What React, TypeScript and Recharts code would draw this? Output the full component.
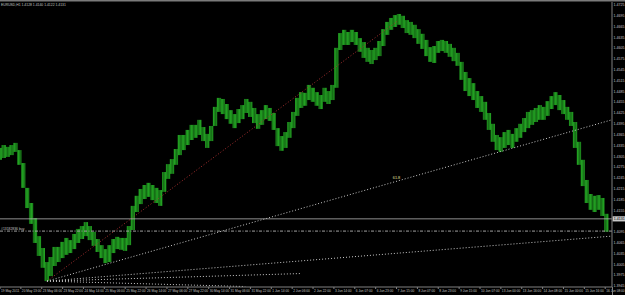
import React from "react";
import { ComposedChart, Bar, XAxis, YAxis, ReferenceLine, ReferenceDot } from "recharts";

const highs = [
  1.4328, 1.4336, 1.4331, 1.4336, 1.4342, 1.4322, 1.4286, 1.4217, 1.4175, 1.4133,
  1.4083, 1.4050, 1.4011, 1.4025, 1.4053, 1.4053, 1.4067, 1.4078, 1.4072, 1.4089,
  1.4103, 1.4111, 1.4122, 1.4111, 1.4095, 1.4075, 1.4058, 1.4047, 1.4058, 1.4075,
  1.4081, 1.4078, 1.4078, 1.4111, 1.4167, 1.4195, 1.4214, 1.4225, 1.4231, 1.4225,
  1.4217, 1.4211, 1.4261, 1.4283, 1.4297, 1.4325, 1.4364, 1.4364, 1.4378, 1.4392,
  1.4392, 1.4406, 1.4386, 1.4367, 1.4389, 1.4442, 1.4467, 1.4464, 1.4450, 1.4433,
  1.4422, 1.4436, 1.4447, 1.4464, 1.4456, 1.4439, 1.4422, 1.4433, 1.4447, 1.4439,
  1.4425, 1.4383, 1.4361, 1.4372, 1.4400, 1.4428, 1.4467, 1.4483, 1.4481, 1.4503,
  1.4495, 1.4483, 1.4475, 1.4495, 1.4486, 1.4503, 1.4606, 1.4647, 1.4656, 1.4650,
  1.4656, 1.4650, 1.4633, 1.4622, 1.4606, 1.4600, 1.4606, 1.4625, 1.4658, 1.4678,
  1.4689, 1.4697, 1.4700, 1.4695, 1.4683, 1.4678, 1.4670, 1.4658, 1.4645, 1.4628,
  1.4608, 1.4611, 1.4625, 1.4628, 1.4625, 1.4617, 1.4606, 1.4592, 1.4567, 1.4539,
  1.4522, 1.4508, 1.4486, 1.4472, 1.4456, 1.4425, 1.4395, 1.4364, 1.4358, 1.4372,
  1.4378, 1.4367, 1.4383, 1.4395, 1.4411, 1.4428, 1.4433, 1.4439, 1.4447, 1.4442,
  1.4458, 1.4472, 1.4483, 1.4475, 1.4461, 1.4442, 1.4428, 1.4400, 1.4345, 1.4295,
  1.4239, 1.4200, 1.4195, 1.4197, 1.4189, 1.4145,
];
const lows = [
  1.4295, 1.4300, 1.4303, 1.4308, 1.4317, 1.4281, 1.4217, 1.4161, 1.4117, 1.4064,
  1.4028, 1.3995, 1.3958, 1.3972, 1.4000, 1.4011, 1.4022, 1.4031, 1.4036, 1.4047,
  1.4064, 1.4075, 1.4083, 1.4072, 1.4056, 1.4039, 1.4022, 1.4008, 1.4011, 1.4036,
  1.4047, 1.4045, 1.4042, 1.4058, 1.4100, 1.4150, 1.4172, 1.4186, 1.4192, 1.4183,
  1.4175, 1.4167, 1.4206, 1.4242, 1.4256, 1.4281, 1.4308, 1.4322, 1.4336, 1.4350,
  1.4356, 1.4364, 1.4347, 1.4328, 1.4347, 1.4389, 1.4428, 1.4422, 1.4408, 1.4395,
  1.4383, 1.4397, 1.4408, 1.4425, 1.4414, 1.4397, 1.4381, 1.4392, 1.4408, 1.4403,
  1.4378, 1.4333, 1.4320, 1.4328, 1.4356, 1.4383, 1.4417, 1.4439, 1.4445, 1.4461,
  1.4456, 1.4445, 1.4436, 1.4456, 1.4450, 1.4461, 1.4495, 1.4600, 1.4614, 1.4614,
  1.4622, 1.4614, 1.4595, 1.4578, 1.4567, 1.4561, 1.4572, 1.4583, 1.4611, 1.4642,
  1.4656, 1.4664, 1.4670, 1.4661, 1.4647, 1.4642, 1.4633, 1.4617, 1.4603, 1.4583,
  1.4567, 1.4564, 1.4592, 1.4597, 1.4592, 1.4581, 1.4569, 1.4556, 1.4517, 1.4486,
  1.4472, 1.4461, 1.4439, 1.4428, 1.4406, 1.4378, 1.4345, 1.4322, 1.4317, 1.4328,
  1.4336, 1.4328, 1.4345, 1.4356, 1.4372, 1.4383, 1.4392, 1.4400, 1.4406, 1.4406,
  1.4417, 1.4436, 1.4447, 1.4433, 1.4422, 1.4406, 1.4389, 1.4328, 1.4281, 1.4222,
  1.4175, 1.4156, 1.4150, 1.4156, 1.4139, 1.4095,
];

const xLabels = [
  "19 May 2011", "20 May 13:00", "23 May 06:00", "23 May 22:00", "24 May 14:00",
  "25 May 06:00", "25 May 22:00", "26 May 14:00", "27 May 06:00", "27 May 22:00",
  "30 May 14:00", "31 May 06:00", "31 May 22:00", "1 Jun 14:00", "2 Jun 06:00",
  "2 Jun 22:00", "3 Jun 14:00", "6 Jun 07:00", "6 Jun 23:00", "7 Jun 15:00",
  "8 Jun 07:00", "8 Jun 23:00", "9 Jun 15:00", "10 Jun 07:00", "13 Jun 00:00",
  "13 Jun 16:00", "14 Jun 08:00", "15 Jun 00:00", "15 Jun 16:00", "16 Jun 08:00",
];
const BARS_PER_LABEL = 16;
const HOURS_PER_POINT = 3;

const yTicks = [
  1.4725, 1.4695, 1.4665, 1.4635, 1.4605, 1.4575, 1.4545, 1.4515, 1.4485, 1.4455,
  1.4425, 1.4395, 1.4365, 1.4335, 1.4305, 1.4275, 1.4245, 1.4215, 1.4185, 1.4155,
  1.4095, 1.4065, 1.4035, 1.4005, 1.3975, 1.3945,
];
const yDomain = [1.39417, 1.47333];
const xDomain = [0, 469.2];

const title = "EURUSD,H1  1.4128 1.4140 1.4122 1.4131";
const bid = 1.4131;
const orderPrice = 1.4097;
const orderLabel = "#13182836 buy";

// fan / gann lines: [barFrom, priceFrom, barTo, priceTo]
const redLine = [36, 1.3958, 305, 1.4681];
const fanLines = [
  [36, 1.3958, 469, 1.4406],
  [36, 1.3958, 469, 1.4083],
  [36, 1.3958, 230, 1.3979],
  [36, 1.3958, 188, 1.3943],
];
const fanLabel = { bar: 304, price: 1.4245, text: "61.8" };

const data = highs.map((h, k) => ({ i: k * HOURS_PER_POINT, r: [lows[k], h] }));
const xTicks = xLabels.map((_, n) => n * BARS_PER_LABEL);

const FONT = "'Liberation Sans', Arial, sans-serif";
const TXT = "#c4c4c4";

const XTick = (props: any) => {
  const { x, y, payload } = props;
  const label = xLabels[Math.round(payload.value / BARS_PER_LABEL)];
  return (
    <text x={x + 1} y={y} dy={3.4} fontSize={3.2} fill={TXT} fontFamily={FONT} textAnchor="start">
      {label}
    </text>
  );
};

const YTick = (props: any) => {
  const { x, y, payload } = props;
  return (
    <text x={x + 1.5} y={y} dy={1.3} fontSize={3.6} fill={TXT} fontFamily={FONT} textAnchor="start">
      {Number(payload.value).toFixed(4)}
    </text>
  );
};

const BidLabel = (props: any) => {
  const vb = props.viewBox || {};
  const x = (vb.x || 0) + (vb.width || 0);
  const y = vb.y || 0;
  return (
    <g>
      <rect x={x + 0.5} y={y - 2.6} width={12.5} height={5.2} fill="#c8c8c8" />
      <text x={x + 1.8} y={y} dy={1.3} fontSize={3.6} fill="#000" fontFamily={FONT}>
        {bid.toFixed(4)}
      </text>
    </g>
  );
};

const OrderLabel = (props: any) => {
  const vb = props.viewBox || {};
  return (
    <text x={(vb.x || 0) + 1} y={(vb.y || 0) - 1.2} fontSize={3.4} fill={TXT} fontFamily={FONT}>
      {orderLabel}
    </text>
  );
};

// each 3-hour range drawn as a block of hourly-looking green strokes
const RangeShape = (props: any) => {
  const { x, y, width, height } = props;
  if (!isFinite(x) || !isFinite(y)) return null;
  const w = Math.max(width, 0);
  return (
    <rect x={x - 0.4} y={y} width={w + 0.8} height={Math.max(height, 1)} fill="url(#mtBars)" />
  );
};

export default function App() {
  return (
    <div style={{ position: "fixed", left: 0, top: 0, width: 625, height: 295, background: "#000" }}>
      <svg width={0} height={0} style={{ position: "absolute" }}>
        <defs>
          <pattern id="mtBars" patternUnits="userSpaceOnUse" width={1.3} height={6}>
            <rect x={0} y={0} width={1.3} height={6} fill="#0b4a0b" />
            <rect x={0} y={0} width={0.9} height={6} fill="#23a323" />
          </pattern>
        </defs>
      </svg>
      <ComposedChart
        width={625}
        height={295}
        data={data}
        margin={{ top: 2, right: 0, bottom: 0, left: 0 }}
        style={{ background: "#000" }}
      >
        <XAxis
          dataKey="i"
          type="number"
          domain={xDomain}
          allowDataOverflow
          ticks={xTicks}
          interval={0}
          height={8}
          tickSize={2}
          tickMargin={0}
          axisLine={{ stroke: "#808080" }}
          tickLine={{ stroke: "#808080" }}
          tick={<XTick />}
        />
        <YAxis
          orientation="right"
          type="number"
          domain={yDomain}
          allowDataOverflow
          ticks={yTicks}
          interval={0}
          width={13}
          tickSize={0}
          tickMargin={0}
          axisLine={{ stroke: "#808080" }}
          tickLine={false}
          tick={<YTick />}
        />
        <ReferenceLine
          segment={[{ x: redLine[0], y: redLine[1] }, { x: redLine[2], y: redLine[3] }]}
          stroke="#a83030"
          strokeDasharray="1 2"
          ifOverflow="visible"
        />
        {fanLines.map((l, n) => (
          <ReferenceLine
            key={n}
            segment={[{ x: l[0], y: l[1] }, { x: l[2], y: l[3] }]}
            stroke="#c8c8c8"
            strokeDasharray="1 2"
            ifOverflow="visible"
          />
        ))}
        <Bar dataKey="r" fill="#1e961e" barSize={4} shape={<RangeShape />} isAnimationActive={false} />
        <ReferenceLine y={bid} stroke="#b4b4b4" strokeWidth={0.8} label={<BidLabel />} />
        <ReferenceLine y={orderPrice} stroke="#a0a0a0" strokeDasharray="3 1.5 1 1.5" label={<OrderLabel />} />
        <ReferenceDot
          x={fanLabel.bar}
          y={fanLabel.price}
          r={0}
          fill="none"
          stroke="none"
          label={{ value: fanLabel.text, position: "center", fontSize: 3.8, fill: "#e0e0a0", fontFamily: FONT }}
        />
      </ComposedChart>
      <svg width={625} height={295} style={{ position: "absolute", left: 0, top: 0, pointerEvents: "none" }}>
        <line x1={0} x2={625} y1={0.75} y2={0.75} stroke="#7a7a7a" strokeWidth={1.5} />
        <text x={1} y={6} fontSize={3.4} fill={TXT} fontFamily={FONT}>
          {title}
        </text>
        <line x1={612.5} x2={612.5} y1={287} y2={295} stroke="#808080" />
      </svg>
    </div>
  );
}
